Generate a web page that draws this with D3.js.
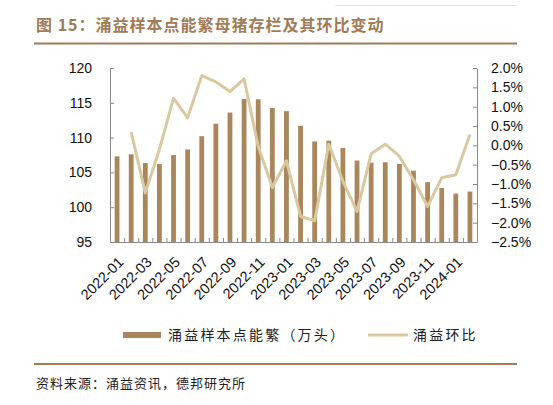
<!DOCTYPE html>
<html>
<head>
<meta charset="utf-8">
<script src="https://cdn.jsdelivr.net/npm/d3@7"></script>
<style>
  body { margin: 0; background: #fff; }
  svg { display: block; }
  .tick text { font-family: "Liberation Sans", Arial, sans-serif; fill: #111; }
</style>
</head>
<body>
<svg id="chart" width="553" height="405"></svg>
<script>
// data
const months = [
  "2022-01", "2022-02", "2022-03", "2022-04", "2022-05", "2022-06", "2022-07",
  "2022-08", "2022-09", "2022-10", "2022-11", "2022-12", "2023-01", "2023-02",
  "2023-03", "2023-04", "2023-05", "2023-06", "2023-07", "2023-08", "2023-09",
  "2023-10", "2023-11", "2023-12", "2024-01", "2024-02"
]
const sowStock = [
  107.3, 107.6, 106.35, 106.2, 107.5, 108.3, 110.2, 112.0, 113.6, 115.55,
  115.5, 114.25, 113.8, 111.7, 109.45, 109.55, 108.5, 106.7, 106.4, 106.45,
  106.2, 105.25, 103.6, 102.75, 101.95, 102.25
]
// month-on-month change (%), first month has no value
const momChange = [
  null, 0.34, -1.23, -0.11, 1.22, 0.71, 1.80, 1.64, 1.39, 1.72,
  -0.03, -1.09, -0.40, -1.84, -1.95, 0.03, -0.93, -1.71, -0.22, 0.03,
  -0.28, -0.89, -1.58, -0.84, -0.76, 0.28
]
const leftTicks = [95, 100, 105, 110, 115, 120]
const rightTicks = [-2.5, -2.0, -1.5, -1.0, -0.5, 0.0, 0.5, 1.0, 1.5, 2.0]
const xLabels = months.filter((d, i) => i % 2 === 0)

const brown = "#a9865b"
const lineColor = "#d9c9a0"
const headColor = "#a07c58"

const margin = { top: 68, right: 76, bottom: 163, left: 110 }
const width = 553 - margin.left - margin.right
const height = 405 - margin.top - margin.bottom

const svg = d3.select("#chart")

// header
svg.append("line")
  .attr("x1", 335).attr("x2", 517).attr("y1", 5.5).attr("y2", 5.5)
  .attr("stroke", "#ece5dd").attr("stroke-width", 1)
svg.append("text")
  .attr("x", 36).attr("y", 31)
  .attr("font-family", "'Noto Sans CJK SC', sans-serif")
  .attr("font-size", 16).attr("font-weight", "bold")
  .attr("letter-spacing", 1)
  .attr("fill", headColor)
  .text("图 15：涌益样本点能繁母猪存栏及其环比变动")
svg.append("line")
  .attr("x1", 34).attr("x2", 517).attr("y1", 43.5).attr("y2", 43.5)
  .attr("stroke", headColor).attr("stroke-width", 2)

const g = svg.append("g")
  .attr("transform", `translate(${margin.left}, ${margin.top})`)

// scales
const x = d3.scaleBand().domain(months).range([0, width]).paddingInner(0.66).paddingOuter(0.33)
const xEdge = d3.scaleBand().domain(months).range([0, width])
const yLeft = d3.scaleLinear().domain([95, 120]).range([height, 0])
const yRight = d3.scaleLinear().domain([-2.5, 2.0]).range([height, 0])

// axes
const leftAxis = d3.axisLeft(yLeft).tickValues(leftTicks).tickSizeInner(-4).tickSizeOuter(0).tickPadding(18)
const rightAxis = d3.axisRight(yRight).tickValues(rightTicks).tickSizeInner(-4).tickSizeOuter(0)
  .tickPadding(14).tickFormat(d => d3.format(".1f")(d) + "%")

g.append("g").attr("class", "y-left").call(leftAxis)
g.append("g").attr("class", "y-right").attr("transform", `translate(${width}, 0)`).call(rightAxis)

// bottom axis: ticks at category boundaries, labels every other month
const edgeScale = d3.scaleLinear().domain([0, months.length]).range([0, width])
g.append("g")
  .attr("class", "x-edges")
  .attr("transform", `translate(0, ${height})`)
  .call(d3.axisBottom(edgeScale).tickValues(d3.range(1, months.length))
    .tickSizeInner(-4).tickSizeOuter(0).tickFormat(""))

const xAxis = d3.axisBottom(x).tickValues(xLabels).tickSize(0).tickPadding(0)
const xg = g.append("g")
  .attr("class", "x-axis")
  .attr("transform", `translate(0, ${height})`)
  .call(xAxis)
xg.select(".domain").remove()
xg.selectAll("text")
  .attr("text-anchor", "end")
  .attr("dy", 0)
  .attr("transform", `translate(${x.bandwidth() / 2 + 5}, 21) rotate(-45)`)

svg.selectAll(".tick text").attr("font-size", 14)
xg.selectAll("text").attr("font-size", 14.5)
svg.selectAll(".domain, .tick line").attr("stroke", "#8a8a8a")

// bars
g.selectAll(".bar")
  .data(sowStock)
  .join("rect")
  .attr("class", "bar")
  .attr("x", (d, i) => x(months[i]))
  .attr("width", x.bandwidth())
  .attr("y", d => yLeft(d))
  .attr("height", d => height - yLeft(d))
  .attr("fill", brown)

// redraw bottom domain over the bars
g.append("line")
  .attr("x1", 0).attr("x2", width).attr("y1", height + 0.5).attr("y2", height + 0.5)
  .attr("stroke", "#8a8a8a")

// line
const line = d3.line()
  .defined(d => d != null)
  .x((d, i) => xEdge(months[i]) + xEdge.bandwidth() / 2)
  .y(d => yRight(d))

g.append("path")
  .datum(momChange)
  .attr("d", line)
  .attr("fill", "none")
  .attr("stroke", lineColor)
  .attr("stroke-width", 3)
  .attr("stroke-linejoin", "round")

// legend
const legend = svg.append("g").attr("font-family", "'Noto Sans CJK SC', sans-serif").attr("font-size", 14)
legend.append("rect").attr("x", 123).attr("y", 332).attr("width", 38).attr("height", 6).attr("fill", brown)
legend.append("text").attr("x", 168).attr("y", 340).attr("letter-spacing", 2.2).attr("fill", "#222")
  .text("涌益样本点能繁（万头）")
legend.append("line").attr("x1", 368).attr("x2", 408).attr("y1", 335).attr("y2", 335)
  .attr("stroke", lineColor).attr("stroke-width", 3)
legend.append("text").attr("x", 413).attr("y", 340).attr("letter-spacing", 2.2).attr("fill", "#222")
  .text("涌益环比")

// footer
svg.append("line")
  .attr("x1", 34).attr("x2", 517).attr("y1", 364).attr("y2", 364)
  .attr("stroke", headColor).attr("stroke-width", 2)
svg.append("text")
  .attr("x", 36).attr("y", 388)
  .attr("font-family", "'Noto Sans CJK SC', sans-serif")
  .attr("font-size", 13).attr("letter-spacing", 1)
  .attr("fill", "#222")
  .text("资料来源：涌益资讯，德邦研究所")
</script>
</body>
</html>
